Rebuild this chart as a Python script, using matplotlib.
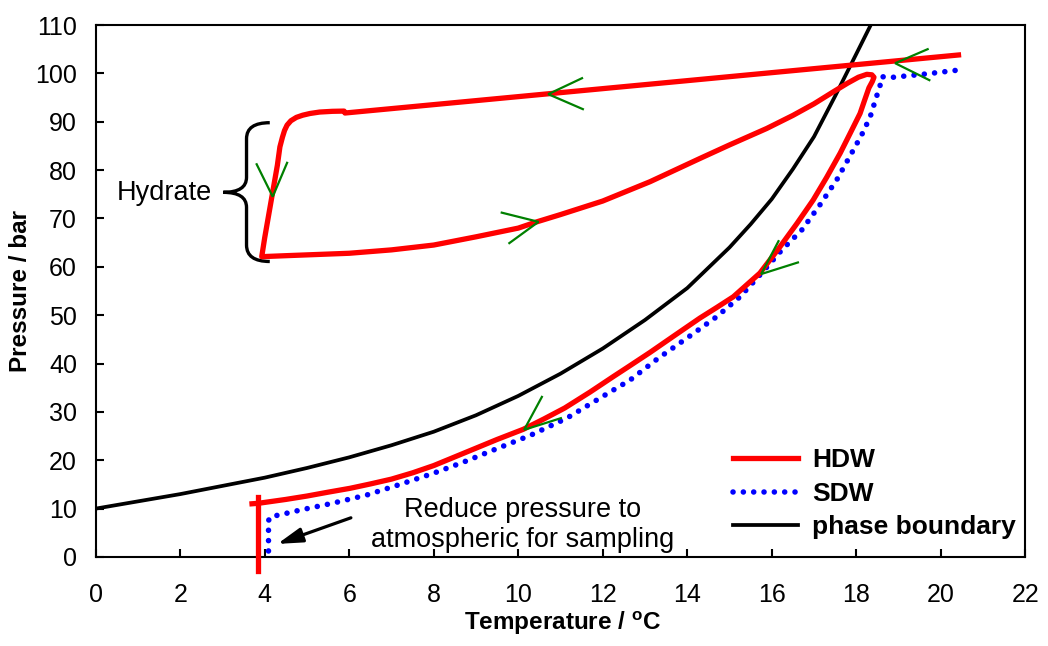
import matplotlib.pyplot as plt
from matplotlib.path import Path
from matplotlib.patches import PathPatch

plt.rcParams['font.family'] = ['Liberation Sans', 'DejaVu Sans']

# --- data ---
# phase boundary
pb_T = [0, 1, 2, 3, 4, 5, 6, 7, 8, 9, 10, 11, 12, 13, 14, 15, 15.5, 16, 16.5, 17, 17.5, 18, 18.4]
pb_P = [10, 11.5, 13, 14.7, 16.4, 18.4, 20.6, 23.1, 25.9, 29.3, 33.3, 37.9, 43.1, 49.0, 55.6,
        64.0, 68.8, 74.0, 80.2, 86.9, 95.3, 104, 111]

# HDW loop (in experiment order)
hdw_T = [20.42, 5.9, 5.88, 5.6, 5.3, 5.07, 4.9, 4.75, 4.62, 4.53, 4.47, 4.42, 4.36, 4.3, 4.2,
         4.1, 4.0, 3.93,
         4.5, 6.0, 7.0, 8.0, 9.0, 10.0, 10.44, 11.0, 12.0, 13.12, 14.3, 15.0, 15.88, 16.5, 17.0,
         17.46, 17.8, 18.05, 18.25, 18.37, 18.42, 18.38, 18.3, 18.2, 18.09, 17.85, 17.62, 17.3,
         16.98, 16.6, 16.2, 15.72, 15.09, 14.7, 14.3, 13.7, 13.12, 12.6, 12.25, 11.7, 11.1, 10.6,
         10.12, 9.5, 9.0, 8.5, 8.0, 7.5, 7.0, 6.5, 6.02, 5.5, 5.0, 4.5, 3.85, 3.7]
hdw_P = [103.8, 91.8, 92.2, 92.15, 92.0, 91.7, 91.35, 90.9, 90.2, 89.3, 88.2, 86.8, 84.8, 81.0,
         76.0, 71.0, 66.0, 62.1,
         62.3, 62.8, 63.5, 64.5, 66.2, 68.0, 69.3, 70.8, 73.6, 77.6, 82.4, 85.2, 88.6, 91.3, 93.7,
         96.2, 98.0, 99.2, 99.8, 99.7, 99.2, 98.3, 97.0, 94.5, 91.7, 87.5, 83.5, 78.5,
         73.8, 69.0, 64.2, 58.7, 53.8, 51.6, 49.4, 45.8, 42.3, 39.3, 37.3, 34.1, 30.8, 28.5,
         26.4, 24.3, 22.5, 20.7, 18.9, 17.4, 16.1, 15.1, 14.2, 13.4, 12.6, 11.9, 11.1, 11.0]
# pressure release at the end of the HDW run
drop_T = [3.85, 3.85]
drop_P = [12.5, -3.0]

# SDW
sdw_T = [20.34, 19.67, 18.88, 18.6, 18.56, 18.48, 18.33, 18.13, 17.89, 17.54, 17.14, 16.71,
         16.24, 15.76, 15.25, 14.7, 14.0, 13.3, 12.65, 12.0, 11.15, 10.3, 9.41, 8.7, 7.99,
         7.2, 6.41, 5.6, 4.84, 4.4, 4.13, 4.09, 4.09]
sdw_P = [100.6, 99.9, 99.2, 99.3, 97.3, 95.2, 91.0, 87.3, 83.5, 78.0, 72.8, 67.6,
         63.5, 58.7, 53.8, 49.7, 45.3, 41.0, 36.6, 33.2, 28.7, 25.2, 22.1, 19.6, 17.3,
         15.0, 12.8, 11.1, 9.7, 8.8, 8.3, 7.5, 0.0]

# direction arrows: tip, arm 1, arm 2
arrow_tip = [(18.92, 102.1), (10.71, 95.7), (4.19, 74.5), (10.48, 69.3), (15.75, 58.5), (10.14, 26.3)]
arrow_arm1 = [(19.69, 105.0), (11.51, 99.0), (3.81, 81.2), (9.61, 71.2), (16.16, 65.3), (10.56, 33.1)]
arrow_arm2 = [(19.73, 98.6), (11.53, 92.6), (4.53, 81.5), (9.79, 64.9), (16.62, 60.9), (11.01, 28.7)]

x_ticks = list(range(0, 23, 2))
y_ticks = list(range(0, 111, 10))

fig = plt.figure(figsize=(10.48, 6.46), dpi=100)
ax = fig.add_axes([0.0913, 0.1378, 0.8870, 0.8235])

ax.plot(hdw_T, hdw_P, color='red', lw=3.8, label='HDW', clip_on=False, zorder=3)
ax.plot(drop_T, drop_P, color='red', lw=3.8, clip_on=False, zorder=3)
ax.plot(sdw_T, sdw_P, color='blue', lw=4.0, linestyle=(0, (0.01, 1.85)),
        dash_capstyle='round', label='SDW', zorder=2)
ax.plot(pb_T, pb_P, color='black', lw=2.7, label='phase boundary', zorder=2)

for tip, a1, a2 in zip(arrow_tip, arrow_arm1, arrow_arm2):
    ax.plot([a1[0], tip[0], a2[0]], [a1[1], tip[1], a2[1]], color='green', lw=1.6,
            solid_joinstyle='miter', zorder=4)

# curly brace marking the hydrate region
brace = Path([(4.12, 89.8), (3.57, 89.8), (3.57, 86.5),
              (3.57, 78.5), (3.57, 75.4), (3.02, 75.4),
              (3.57, 75.4), (3.57, 72.3),
              (3.57, 64.5), (3.57, 61.1), (4.12, 61.1)],
             [Path.MOVETO, Path.CURVE3, Path.CURVE3,
              Path.LINETO, Path.CURVE3, Path.CURVE3,
              Path.CURVE3, Path.CURVE3,
              Path.LINETO, Path.CURVE3, Path.CURVE3])
ax.add_patch(PathPatch(brace, facecolor='none', edgecolor='black', lw=2.4))
ax.text(2.75, 75.2, 'Hydrate', fontsize=19.5, ha='right', va='center')

ax.annotate('', xy=(4.30, 2.7), xytext=(6.04, 8.1),
            arrowprops=dict(arrowstyle='-|>,head_length=0.75,head_width=0.22',
                            mutation_scale=20, color='black', lw=2.3,
                            shrinkA=0, shrinkB=0))
ax.text(10.1, 6.7, 'Reduce pressure to\natmospheric for sampling', fontsize=19.5,
        ha='center', va='center')

ax.set_xlim(0, 22)
ax.set_ylim(0, 110)
ax.set_xticks(x_ticks)
ax.set_yticks(y_ticks)
ax.tick_params(direction='in', length=6, width=1.5, labelsize=18)
ax.tick_params(axis='x', pad=19)
ax.tick_params(axis='y', pad=13.5)
for s in ax.spines.values():
    s.set_linewidth(1.5)

ax.set_xlabel('Temperature / $\\mathregular{^{o}}$C', fontsize=17.5, fontweight='bold')
ax.set_ylabel('Pressure / bar', fontsize=17.5, fontweight='bold')
ax.xaxis.label.set_va('baseline')
ax.xaxis.set_label_coords(0.502, -0.137)
ax.yaxis.set_label_coords(-0.068, 0.5)

ax.legend(loc='upper left', bbox_to_anchor=(0.686, 0.204), frameon=False,
          prop={'weight': 'bold', 'size': 19}, borderpad=0, borderaxespad=0,
          handlelength=2.46, handletextpad=0.52, labelspacing=0.36)

fig.savefig('out.png', dpi=100)
